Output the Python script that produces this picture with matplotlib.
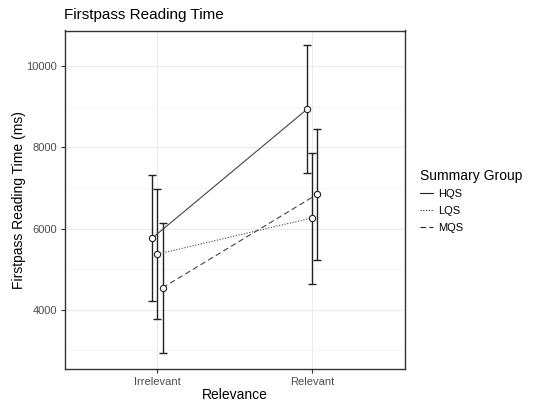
import matplotlib
matplotlib.use("Agg")
import matplotlib.pyplot as plt
from matplotlib.lines import Line2D
import numpy as np

plt.rcParams['font.family'] = ['Liberation Sans', 'DejaVu Sans']

categories = ["Irrelevant", "Relevant"]
groups = ["HQS", "LQS", "MQS"]
means = {
    "HQS": [5764, 8937],
    "LQS": [5370, 6263],
    "MQS": [4541, 6846],
}
upper = {
    "HQS": [7314, 10511],
    "LQS": [6986, 7872],
    "MQS": [6140, 8462],
}
lower = {
    "HQS": [4207, 7380],
    "LQS": [3764, 4640],
    "MQS": [2935, 5230],
}
linestyles = {"HQS": "-", "LQS": (0, (1, 1.5)), "MQS": (0, (5, 3))}

fig = plt.figure(figsize=(5.43, 4.03), dpi=100)
ax = fig.add_axes([64.5/543, 1 - 369/403, (405-64.5)/543, (369-30.5)/403])

x = np.arange(1, len(categories) + 1)
offsets = {"HQS": -0.1/3, "LQS": 0.0, "MQS": 0.1/3}

for g in groups:
    xs = x + offsets[g]
    m = np.array(means[g]); u = np.array(upper[g]); l = np.array(lower[g])
    ax.errorbar(xs, m, yerr=[m - l, u - m], fmt='none', ecolor='#222222',
                elinewidth=1.0, capsize=3, capthick=1.0, zorder=2)
    ax.plot(xs, m, color='#444444', lw=0.8, ls=linestyles[g], zorder=3)
    ax.plot(xs, m, 'o', ms=4.5, mfc='white', mec='#222222', mew=0.8, zorder=4, ls='none')

ax.set_xlim(0.4, 2.6)
ax.set_ylim(2541, 10878)
ax.set_xticks(x)
ax.set_xticklabels(categories)
ax.set_yticks([4000, 6000, 8000, 10000])
ax.set_yticks([3000, 5000, 7000, 9000], minor=True)
ax.grid(True, which='major', color='#ebebeb', lw=0.8)
ax.grid(True, which='minor', axis='y', color='#f2f2f2', lw=0.5)
ax.set_axisbelow(True)
for s in ax.spines.values():
    s.set_color('#333333'); s.set_linewidth(1.0)
ax.tick_params(axis='both', which='major', length=3, color='#333333',
               labelsize=8, labelcolor='#4d4d4d', width=0.8, pad=2.5)
ax.tick_params(axis='both', which='minor', length=0)

ax.set_xlabel("Relevance", fontsize=10, color='black')
ax.set_ylabel("Firstpass Reading Time (ms)", fontsize=10, color='black')
ax.xaxis.set_label_coords(0.5, (369 - 388) / 338.5)
ax.yaxis.set_label_coords((26 - 64.5) / 340.5, 0.5)
fig.text(64/543, 1 - 15/403, "Firstpass Reading Time", fontsize=11, va='center', ha='left')

handles = [Line2D([0], [0], color='#222222', lw=0.8, ls=linestyles[g]) for g in groups]
leg = fig.legend(handles, groups, title="Summary Group", loc='upper left',
                 bbox_to_anchor=(414/543, 1 - 163/403), frameon=False,
                 fontsize=8, title_fontsize=10, handlelength=1.2, handletextpad=0.5,
                 labelspacing=0.6, borderpad=0)
leg._legend_box.align = "left"

fig.savefig("out.png", dpi=100)
